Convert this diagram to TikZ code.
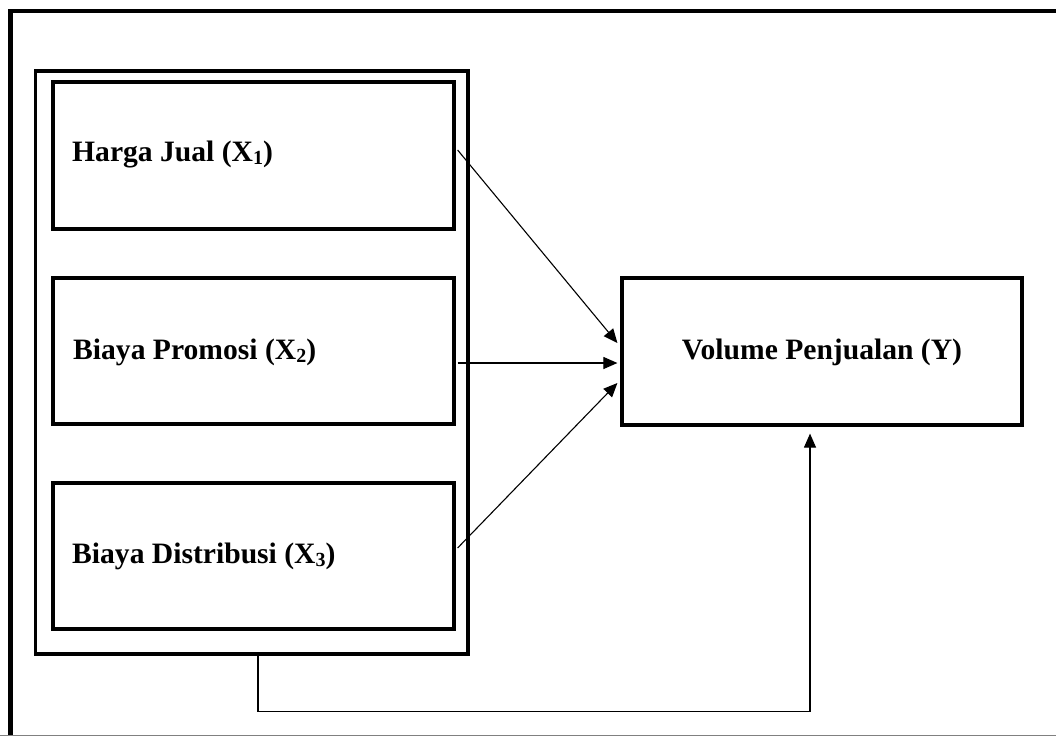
\documentclass[tikz,border=0pt]{standalone}
\usepackage{fontspec}
\setmainfont{Liberation Serif}
\usetikzlibrary{arrows.meta,calc}
\newcommand{\subdig}[1]{\raisebox{-3pt}{\fontsize{20}{20}\selectfont #1}}
\begin{document}
\begin{tikzpicture}[x=1pt,y=-1pt,
  box/.style={draw,line width=3.2pt,inner sep=0pt,minimum height=147pt},
  lbl/.style={font=\fontsize{29.6}{31}\selectfont\bfseries,anchor=base west,inner sep=0pt},
  arr/.style={line width=1.1pt,-{Triangle[length=14pt,width=12pt]}}]
\useasboundingbox (0,0) rectangle (1056,736);
% frame
\draw[line width=4.5pt] (10.5,735) -- (10.5,11) -- (1065,11);
\draw[gray,line width=1.2pt] (0,735.4) -- (1056,735.4);
% group box
\node[box,minimum width=432.5pt,minimum height=583pt] (grp) at (251.75,362.5) {};
\node[box,minimum width=401pt] (x1) at (253.5,155.5) {};
\node[box,minimum width=401pt,minimum height=146pt] (x2) at (253.5,351) {};
\node[box,minimum width=401pt,minimum height=146pt] (x3) at (253.5,556) {};
\node[box,minimum width=400pt] (y) at (822,351.5) {};
% labels
\node[lbl] (t1) at (72,161) {Harga Jual (X\subdig{1})};
\node[lbl] (t2) at (73,359) {Biaya Promosi (X\subdig{2})};
\node[lbl] (t3) at (72,563) {Biaya Distribusi (X\subdig{3})};
\node[lbl,anchor=base] (ty) at (822,359) {Volume Penjualan (Y)};
% arrows
\draw[arr] ($(x1.east)+(2,-5.5)$) -- ($(y.west)+(-3,-8.5)$);
\draw[arr] ($(x2.east)+(2,12)$) -- ($(y.west)+(-3,11.5)$);
\draw[arr] ($(x3.east)+(2,-8)$) -- ($(y.west)+(-3,31.5)$);
\coordinate (fb) at ($(grp.south)+(6.25,0)$);
\coordinate (fe) at ($(y.south)+(-12,7)$);
\draw[arr] (fb) -- ($(fb)+(0,56)$) -| (fe);
\end{tikzpicture}
\end{document}
